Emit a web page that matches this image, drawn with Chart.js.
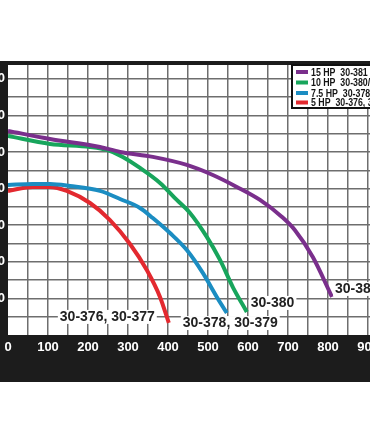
<!DOCTYPE html>
<html>
<head>
<meta charset="utf-8">
<script src="https://cdn.jsdelivr.net/npm/chart.js@4.4.1/dist/chart.umd.min.js"></script>
<style>
  html, body { margin: 0; padding: 0; background: #fff; }
  #wrap { position: relative; width: 370px; height: 444px; overflow: hidden; background: #fff; }
  #pumpChart { position: absolute; left: -40px; top: 61px; background: #1c1c1c; }
</style>
</head>
<body>
<div id="wrap">
  <canvas id="pumpChart" width="448" height="321"></canvas>
</div>
<script>
// flow (GPM) and head
var hp15Flow = [0, 105, 230, 280, 362, 447, 512, 572, 630, 685, 717, 762, 810];
var hp15Head = [111.5, 107.1, 102.7, 100, 97.3, 92.9, 87.4, 80.9, 73.8, 64.5, 57.4, 42.6, 20.8];

var hp10Flow = [0, 105, 205, 247, 287, 330, 380, 422, 455, 497, 530, 562, 597];
var hp10Head = [108.7, 104.4, 102.7, 101.1, 97.3, 91.3, 83.1, 73.8, 66.7, 53.6, 41, 26.2, 12.6];

var hp75Flow = [0, 62, 105, 155, 230, 280, 330, 362, 405, 447, 487, 522, 547];
var hp75Head = [82, 82.5, 82.5, 81.4, 78.7, 74.3, 69.4, 63.9, 55.7, 46.4, 33.9, 20.8, 12];

var hp5Flow = [0, 62, 105, 147, 205, 255, 305, 347, 380, 402];
var hp5Head = [78.7, 80.9, 80.9, 78.7, 72.1, 62.8, 49.7, 35.5, 20.8, 6.6];

var legendLabels = ['15 HP  30-381', '10 HP  30-380/381', '7.5 HP  30-378, 30-379', '5 HP  30-376, 30-377'];
var endLabels = ['30-381', '30-380', '30-378, 30-379', '30-376, 30-377'];
var colors = ['#7a2f8c', '#18a55c', '#1b8dc2', '#e3292f'];

function toPoints(xs, ys) {
  return xs.map(function (x, i) { return { x: x, y: ys[i] }; });
}

// where each end label sits relative to the last point of its curve
var endLabelPos = [
  { dx: 3, dy: -8, align: 'left' },
  { dx: 4, dy: -9, align: 'left' },
  { dx: -44, dy: 10, align: 'left' },
  { dx: -14, dy: -6, align: 'right' }
];

var plotBg = {
  id: 'plotBg',
  beforeDraw: function (chart) {
    var a = chart.chartArea, ctx = chart.ctx;
    ctx.save();
    ctx.fillStyle = '#ffffff';
    ctx.fillRect(a.left, a.top, a.right - a.left, a.bottom - a.top);
    ctx.restore();
  }
};

var curveNotes = {
  id: 'curveNotes',
  afterDatasetsDraw: function (chart) {
    var ctx = chart.ctx;
    ctx.save();
    // labels at the end of each curve
    ctx.font = 'bold 14px "Liberation Sans", Arial, sans-serif';
    ctx.textBaseline = 'middle';
    ctx.textAlign = 'left';
    chart.data.datasets.forEach(function (ds, i) {
      var pts = chart.getDatasetMeta(i).data;
      var last = pts[pts.length - 1];
      var p = endLabelPos[i];
      var w = ctx.measureText(endLabels[i]).width;
      var left = p.align === 'right' ? last.x + p.dx - w : last.x + p.dx;
      var y = last.y + p.dy;
      ctx.fillStyle = '#ffffff';
      ctx.fillRect(left - 2, y - 7, w + 4, 14);
      ctx.fillStyle = '#222222';
      ctx.fillText(endLabels[i], left, y);
    });

    // legend box
    var bx = 332, by = 4, bw = 140, bh = 43;
    ctx.fillStyle = '#ffffff';
    ctx.fillRect(bx, by, bw, bh);
    ctx.lineWidth = 2;
    ctx.strokeStyle = '#111111';
    ctx.strokeRect(bx, by, bw, bh);
    ctx.font = 'bold 11px "Liberation Sans", Arial, sans-serif';
    var rows = [11, 21.5, 32, 41.5];
    legendLabels.forEach(function (t, i) {
      ctx.fillStyle = colors[i];
      ctx.fillRect(336, rows[i] - 2, 12, 4);
      ctx.save();
      ctx.translate(351, rows[i] + 0.5);
      ctx.scale(0.8, 1);   // condensed look
      ctx.fillStyle = '#151515';
      ctx.fillText(t, 0, 0);
      ctx.restore();
    });
    ctx.restore();
  }
};

var tickFont = { size: 13, weight: 'bold', family: '"Liberation Sans", Arial, sans-serif' };

new Chart('pumpChart', {
  type: 'line',
  data: {
    datasets: [
      { label: legendLabels[0], data: toPoints(hp15Flow, hp15Head), borderColor: colors[0] },
      { label: legendLabels[1], data: toPoints(hp10Flow, hp10Head), borderColor: colors[1] },
      { label: legendLabels[2], data: toPoints(hp75Flow, hp75Head), borderColor: colors[2] },
      { label: legendLabels[3], data: toPoints(hp5Flow, hp5Head), borderColor: colors[3] }
    ]
  },
  options: {
    responsive: false,
    animation: false,
    devicePixelRatio: 1,
    layout: { padding: { top: 4, left: 0, right: 0, bottom: 0 } },
    elements: {
      line: { borderWidth: 4, cubicInterpolationMode: 'monotone', fill: false, borderCapStyle: 'butt' },
      point: { radius: 0 }
    },
    plugins: {
      legend: { display: false },
      title: { display: false },
      tooltip: { enabled: false }
    },
    scales: {
      x: {
        type: 'linear',
        min: 0,
        max: 1000,
        afterFit: function (scale) {
          scale.height = 47;
          scale.paddingLeft = 0;
          scale.paddingRight = 0;
        },
        ticks: {
          stepSize: 50,
          autoSkip: false,
          includeBounds: false,
          maxRotation: 0,
          padding: 5,
          color: '#ffffff',
          font: tickFont,
          callback: function (v) { return v % 100 === 0 ? v : ''; }
        },
        grid: {
          color: function (c) { return c.tick && c.tick.value > 0 ? '#6e6e6e' : 'rgba(0,0,0,0)'; },
          lineWidth: 1.5,
          drawTicks: false
        },
        border: { display: false }
      },
      y: {
        min: 0,
        max: 147.5,
        afterFit: function (scale) {
          scale.width = 48;
          scale.paddingTop = 0;
          scale.paddingBottom = 0;
        },
        ticks: {
          stepSize: 10,
          autoSkip: false,
          includeBounds: false,
          padding: 3,
          color: '#ffffff',
          font: tickFont,
          callback: function (v) { return v > 0 && v % 20 === 0 ? v : ''; }
        },
        grid: {
          color: function (c) {
            var v = c.tick ? c.tick.value : 0;
            return v > 0 && v % 10 === 0 ? '#6e6e6e' : 'rgba(0,0,0,0)';
          },
          lineWidth: 1.5,
          drawTicks: false
        },
        border: { display: false }
      }
    }
  },
  plugins: [plotBg, curveNotes]
});
</script>
</body>
</html>
